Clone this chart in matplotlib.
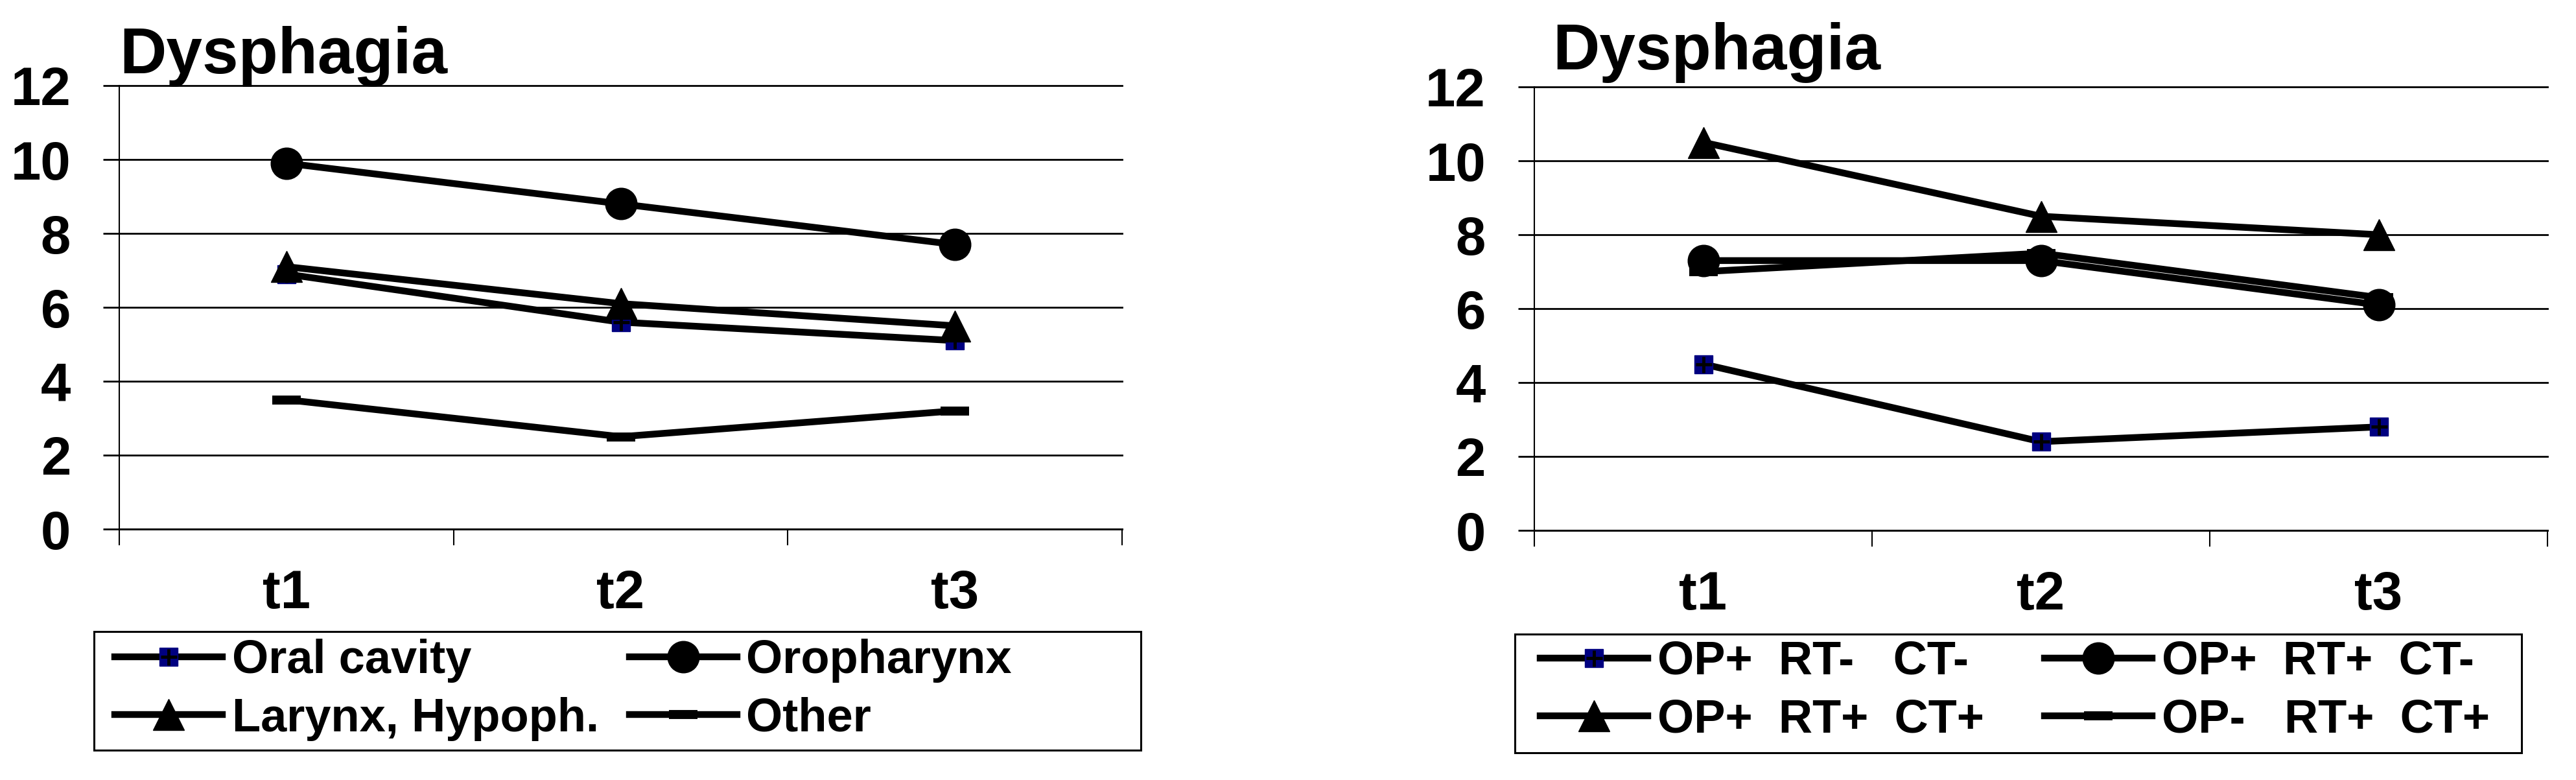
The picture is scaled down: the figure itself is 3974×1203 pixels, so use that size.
import matplotlib
matplotlib.use("Agg")
import matplotlib.pyplot as plt
from matplotlib.patches import Rectangle
from matplotlib.legend_handler import HandlerTuple

# ── Data ────────────────────────────────────────────────────────────────────
times = ["t1", "t2", "t3"]
y_ticks = [0, 2, 4, 6, 8, 10, 12]

# left panel: tumour site
site_labels = ["Oral cavity", "Oropharynx", "Larynx, Hypoph.", "Other"]
oral_cavity = [6.9, 5.6, 5.1]
oropharynx = [9.9, 8.8, 7.7]
larynx_hypoph = [7.1, 6.1, 5.5]
other_site = [3.5, 2.5, 3.2]

# right panel: treatment
treat_labels = ["OP+  RT-   CT-", "OP+  RT+  CT-", "OP+  RT+  CT+", "OP-   RT+  CT+"]
op_only = [4.5, 2.4, 2.8]
op_rt = [7.3, 7.3, 6.1]
op_rt_ct = [10.5, 8.5, 8.0]
rt_ct = [7.0, 7.5, 6.3]

# ── Figure geometry (pixels of the 3974x1203 target) ───────────────────────
W, H, DPI = 3974, 1203, 100


def fx(x):
    return x / W


def fy(y):
    return 1 - y / H


plt.rcParams["font.family"] = ["Liberation Sans", "DejaVu Sans"]
plt.rcParams["font.weight"] = "bold"

fig = plt.figure(figsize=(W / DPI, H / DPI), dpi=DPI)

ax_l = fig.add_axes([fx(184), fy(816), fx(1731) - fx(184), fy(132) - fy(816)])
ax_r = fig.add_axes([fx(2367), fy(818), fx(3930) - fx(2367), fy(134) - fy(818)])

LW = 7.5
NAVY = "#000080"


def style_axes(ax):
    ax.set_xlim(0.5, 3.5)
    ax.set_ylim(0, 12)
    ax.set_xticks([1, 2, 3])
    ax.set_xticklabels(times)
    ax.set_xticks([0.5, 1.5, 2.5, 3.5], minor=True)
    ax.tick_params(axis="x", which="major", length=0, pad=44, labelsize=60)
    ax.tick_params(axis="x", which="minor", length=18, width=1.5, direction="out")
    ax.set_yticks(y_ticks)
    ax.tick_params(axis="y", length=18, width=2, pad=36, labelsize=60)
    ax.grid(axis="y", color="black", linewidth=2)
    for gl in ax.get_ygridlines():
        gl.set_clip_on(False)
    ax.set_axisbelow(True)
    for s in ["top", "right"]:
        ax.spines[s].set_visible(False)
    ax.spines["left"].set_linewidth(1.5)
    ax.spines["bottom"].set_linewidth(2)


def draw_panel(ax, series):
    x = [1, 2, 3]
    sq, = ax.plot(x, series[0], color="black", lw=LW, marker="s", ms=20,
                  mfc=NAVY, mec=NAVY, clip_on=False, zorder=3)
    plus, = ax.plot(x, series[0], ls="none", marker="+", ms=18, mew=3.5,
                    color="black", clip_on=False, zorder=4)
    ci, = ax.plot(x, series[1], color="black", lw=LW, marker="o", ms=35,
                  clip_on=False, zorder=3)
    tr, = ax.plot(x, series[2], color="black", lw=LW, marker="^", ms=35,
                  clip_on=False, zorder=3)
    da, = ax.plot(x, series[3], color="black", lw=LW, marker="_", ms=32,
                  mew=10, clip_on=False, zorder=3)
    return [(sq, plus), ci, tr, da]


style_axes(ax_l)
style_axes(ax_r)

h_l = draw_panel(ax_l, [oral_cavity, oropharynx, larynx_hypoph, other_site])
h_r = draw_panel(ax_r, [op_only, op_rt, op_rt_ct, rt_ct])

ax_l.text(0.0, 1.028, "Dysphagia", transform=ax_l.transAxes, fontsize=72,
          va="baseline", ha="left")
ax_r.text(0.018, 1.039, "Dysphagia", transform=ax_r.transAxes, fontsize=72,
          va="baseline", ha="left")

# ── Legends (row-wise order like the original) ─────────────────────────────
order = [0, 2, 1, 3]
leg_kw = dict(loc="upper left", ncol=2, frameon=False, fontsize=52,
              handlelength=2.3, handletextpad=0.2, labelspacing=0.3,
              borderpad=0, borderaxespad=0,
              handler_map={tuple: HandlerTuple(ndivide=1)})

fig.legend([h_l[i] for i in order], [site_labels[i] for i in order],
           bbox_to_anchor=(fx(177), fy(985)), columnspacing=0.65, **leg_kw)
fig.legend([h_r[i] for i in order], [treat_labels[i] for i in order],
           bbox_to_anchor=(fx(2376), fy(987)), columnspacing=1.3, **leg_kw)

for x0, x1, y0, y1 in [(145, 1760, 974, 1157), (2337, 3890, 978, 1161)]:
    fig.add_artist(Rectangle((fx(x0), fy(y1)), fx(x1) - fx(x0), fy(y0) - fy(y1),
                             transform=fig.transFigure, fill=False,
                             edgecolor="black", linewidth=2.2))

fig.savefig("out.png", dpi=DPI, facecolor="white")
